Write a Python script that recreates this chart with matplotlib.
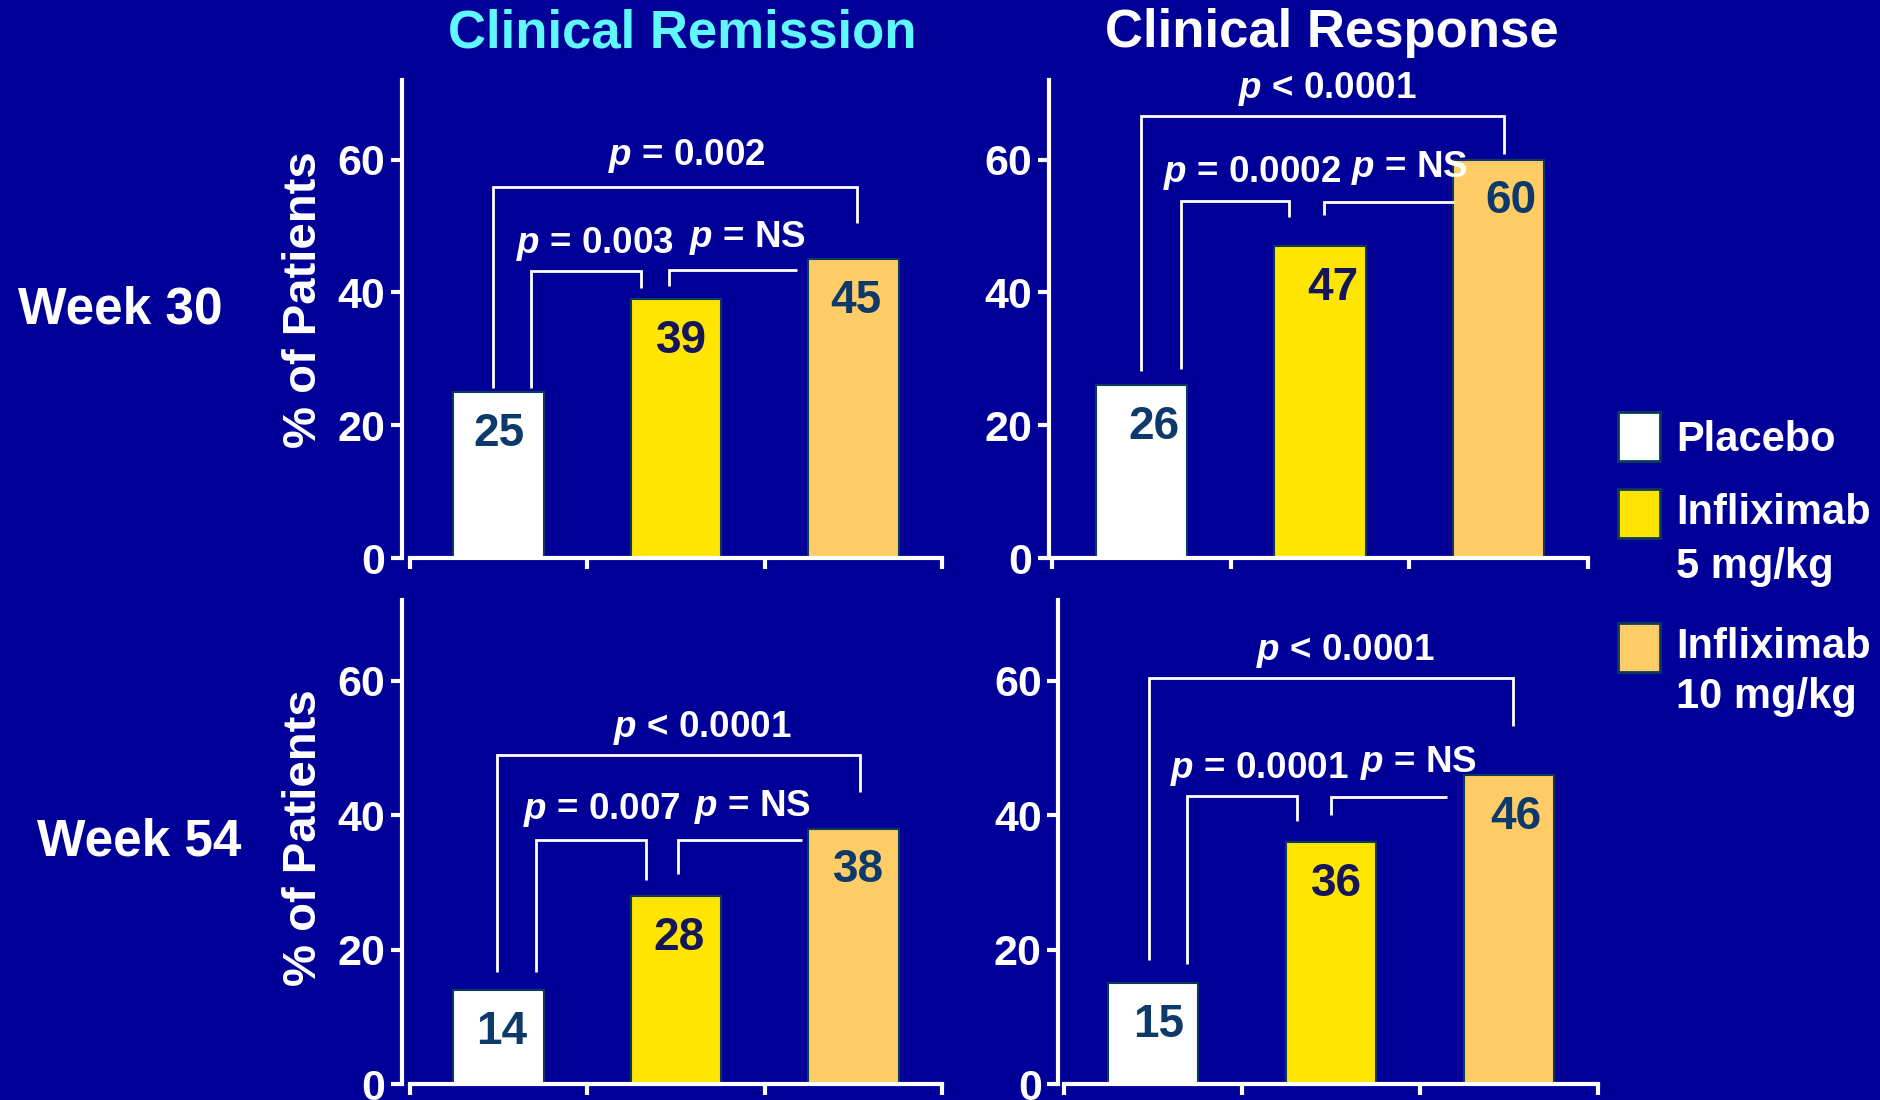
import matplotlib
matplotlib.use("Agg")
import matplotlib.pyplot as plt
from matplotlib.patches import Rectangle

# ---- data ----
groups = ["Placebo", "Infliximab 5 mg/kg", "Infliximab 10 mg/kg"]
legend_labels = ["Placebo", "Infliximab\n5 mg/kg", "Infliximab\n10 mg/kg"]
bar_colors = ["#ffffff", "#ffe600", "#ffcc66"]
label_colors = ["#0d3a6b", "#15155a", "#0d3a6b"]

remission_wk30 = [25, 39, 45]
response_wk30 = [26, 47, 60]
remission_wk54 = [14, 28, 38]
response_wk54 = [15, 36, 46]

pvals_remission_wk30 = ["0.002", "0.003", "NS"]
pvals_response_wk30 = ["< 0.0001", "0.0002", "NS"]
pvals_remission_wk54 = ["< 0.0001", "0.007", "NS"]
pvals_response_wk54 = ["< 0.0001", "0.0001", "NS"]

col_titles = ["Clinical Remission", "Clinical Response"]
row_titles = ["Week 30", "Week 54"]
y_label = "% of Patients"
y_ticks = [0, 20, 40, 60]

BG = "#000099"
plt.rcParams["font.family"] = ["Liberation Sans", "DejaVu Sans"]
plt.rcParams["mathtext.fontset"] = "custom"
plt.rcParams["mathtext.it"] = "Liberation Sans:italic:bold"
plt.rcParams["mathtext.rm"] = "Liberation Sans:bold"

W, H = 1881, 1100
fig = plt.figure(figsize=(W / 100, H / 100), dpi=100, facecolor=BG)


def fx(px):
    return px / W


def fy(py):
    return 1 - py / H


# panel layout: axes rect in pixels (left, right, y of zero, px per unit), spine offset,
# bracket geometry and p-label anchors (data units)
panels = [
    dict(vals=remission_wk30, p=pvals_remission_wk30,
         rect=(410, 942, 558, 6.64), off=6, dx=[0, 4, 2],
         big=((-0.03, 2.02), (25.6, 50.5), 55.9),
         b1=((0.18, 0.80), (25.6, 40.7), 43.2),
         b2=((0.96, 1.68), 40.9, 43.4),
         lab=[(1.06, 60.5), (0.54, 47.3), (1.40, 48.2)]),
    dict(vals=response_wk30, p=pvals_response_wk30,
         rect=(1052, 1588, 558, 6.64), off=2, dx=[9, 9, 9],
         big=((0.0, 2.03), (28.1, 60.9), 66.5),
         b1=((0.22, 0.825), (28.5, 51.4), 53.8),
         b2=((1.02, 1.75), 51.6, 53.6),
         lab=[(1.04, 70.6), (0.62, 58.0), (1.50, 58.7)]),
    dict(vals=remission_wk54, p=pvals_remission_wk54,
         rect=(410, 942, 1084, 6.72), off=6, dx=[2, 2, 4],
         big=((-0.01, 2.04), (16.6, 43.4), 48.9),
         b1=((0.21, 0.83), (16.6, 30.4), 36.3),
         b2=((1.01, 1.71), 31.3, 36.3),
         lab=[(1.15, 53.0), (0.58, 40.7), (1.43, 41.2)]),
    dict(vals=response_wk54, p=pvals_response_wk54,
         rect=(1064, 1598, 1084, 6.72), off=4, dx=[4, 4, 5],
         big=((-0.02, 2.02), (18.4, 53.2), 60.4),
         b1=((0.19, 0.81), (17.9, 39.1), 42.9),
         b2=((1.00, 1.65), 40.0, 42.7),
         lab=[(1.08, 64.4), (0.60, 46.9), (1.49, 47.8)]),
]

YMAX = 72
x = [0, 1, 2]
for pn in panels:
    left, right, y0, ppu = pn["rect"]
    top = y0 - YMAX * ppu
    ax = fig.add_axes([fx(left), fy(y0), (right - left) / W, (y0 - top) / H])
    ax.set_facecolor(BG)
    ax.set_xlim(-0.5, 2.5)
    ax.set_ylim(0, YMAX)
    ax.bar(x, pn["vals"], width=0.51, color=bar_colors, edgecolor="#0b3a5c",
           linewidth=1.5, zorder=2)
    for i, v in enumerate(pn["vals"]):
        ax.annotate(str(v), (x[i], v), xytext=(pn["dx"][i], -30),
                    textcoords="offset points", ha="center", va="center",
                    fontsize=33, fontweight="bold", color=label_colors[i],
                    zorder=3)
    for s in ["top", "right"]:
        ax.spines[s].set_visible(False)
    for s in ["left", "bottom"]:
        ax.spines[s].set_color("white")
        ax.spines[s].set_linewidth(3)
    ax.spines["left"].set_position(("outward", pn["off"]))
    ax.set_xticks([-0.5, 0.5, 1.5, 2.5])
    ax.set_xticklabels([])
    ax.set_yticks(y_ticks)
    ax.tick_params(axis="x", length=8, width=3, color="white", direction="out")
    ax.tick_params(axis="y", length=8, width=3, color="white", direction="out",
                   pad=4, labelsize=31, labelcolor="white")
    for t in ax.get_yticklabels():
        t.set_fontweight("bold")

    # significance brackets
    kw = dict(color="white", lw=2, clip_on=False, zorder=4,
              solid_capstyle="butt", solid_joinstyle="miter")
    (xa, xb), (ya, yb), yt = pn["big"]
    ax.plot([xa, xa, xb, xb], [ya, yt, yt, yb], **kw)
    (xa, xb), (ya, yb), yt = pn["b1"]
    ax.plot([xa, xa, xb, xb], [ya, yt, yt, yb], **kw)
    (xa, xb), ya, yt = pn["b2"]
    ax.plot([xa, xa, xb], [ya, yt, yt], **kw)
    for (lx, ly), pv in zip(pn["lab"], pn["p"]):
        if pv.startswith("<"):
            s = r"$p$ " + pv
        else:
            s = r"$p$ = " + pv
        ax.text(lx, ly, s, ha="center", va="center", fontsize=26.5,
                fontweight="bold", color="white", clip_on=False, zorder=5)

# column and row headings
fig.text(fx(682), fy(33), col_titles[0], ha="center", va="center",
         fontsize=38, fontweight="bold", color="#5ff8ff")
fig.text(fx(1332), fy(33), col_titles[1], ha="center", va="center",
         fontsize=38, fontweight="bold", color="white")
fig.text(fx(120), fy(310), row_titles[0], ha="center", va="center",
         fontsize=37, fontweight="bold", color="white")
fig.text(fx(139), fy(842), row_titles[1], ha="center", va="center",
         fontsize=37, fontweight="bold", color="white")
for cy in (300, 838):
    fig.text(fx(304), fy(cy), y_label, ha="center", va="center", rotation=90,
             fontsize=34, fontweight="bold", color="white")

# legend
sq_tops = [412, 489, 623]
line_centers = [[440], [513, 567], [647, 697]]
for col, top, lab, ys in zip(bar_colors, sq_tops, legend_labels, line_centers):
    fig.patches.append(Rectangle((fx(1618), fy(top + 49)), 42 / W, 49 / H,
                                 transform=fig.transFigure, facecolor=col,
                                 edgecolor="#0b3a5c", linewidth=2))
    for line, yc in zip(lab.split("\n"), ys):
        fig.text(fx(1676), fy(yc), line, ha="left", va="center",
                 fontsize=30, fontweight="bold", color="white")

fig.savefig("out.png", dpi=100, facecolor=BG)
